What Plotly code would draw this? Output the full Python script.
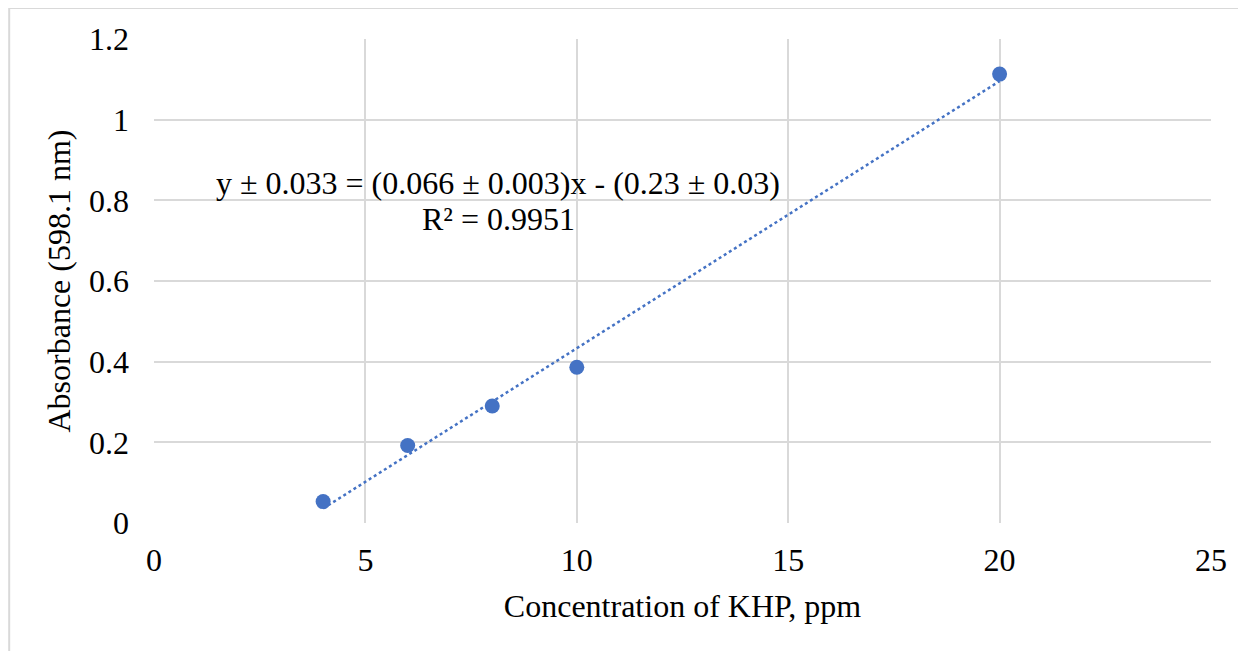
import numpy as np
import plotly.graph_objects as go

# KHP calibration data
concentration = [4, 6, 8, 10, 20]
absorbance = [0.053, 0.192, 0.290, 0.386, 1.113]

x_ticks = [0, 5, 10, 15, 20, 25]
y_ticks = [0, 0.2, 0.4, 0.6, 0.8, 1, 1.2]
y_tick_text = ["0", "0.2", "0.4", "0.6", "0.8", "1", "1.2"]

eq_text = "y ± 0.033 = (0.066 ± 0.003)x - (0.23 ± 0.03)"
r2_text = "R² = 0.9951"

blue = "#4472C4"
font_name = "Liberation Serif, Times New Roman, serif"

# linear trendline fitted to the points
slope, intercept = np.polyfit(concentration, absorbance, 1)
fit_x = [min(concentration), max(concentration)]
fit_y = [slope * v + intercept for v in fit_x]

fig = go.Figure()
fig.add_trace(go.Scatter(x=fit_x, y=fit_y, mode="lines",
                         line=dict(color=blue, width=2.5, dash="dot"),
                         hoverinfo="skip"))
fig.add_trace(go.Scatter(x=concentration, y=absorbance, mode="markers",
                         marker=dict(color=blue, size=15)))

fig.add_annotation(x=8.14, y=0.843, text=eq_text, showarrow=False,
                   xanchor="center", yanchor="middle",
                   font=dict(family=font_name, size=32, color="black"))
fig.add_annotation(x=8.14, y=0.754, text=r2_text, showarrow=False,
                   xanchor="center", yanchor="middle",
                   font=dict(family=font_name, size=32, color="black"))

# outer chart border (top and left visible)
fig.add_shape(type="line", xref="paper", yref="paper",
              x0=-0.137, x1=1.1, y0=1.064, y1=1.064,
              line=dict(color="#d9d9d9", width=2))
fig.add_shape(type="line", xref="paper", yref="paper",
              x0=-0.137, x1=-0.137, y0=1.064, y1=-0.3,
              line=dict(color="#d9d9d9", width=2))

fig.update_layout(
    width=1238, height=643,
    margin=dict(l=146, r=35, t=31, b=128),
    paper_bgcolor="white", plot_bgcolor="white",
    showlegend=False,
    font=dict(family=font_name, size=32, color="black"),
    xaxis=dict(range=[0, 25], tickvals=x_ticks, showgrid=True,
               gridcolor="#d9d9d9", gridwidth=1.5, zeroline=False,
               showline=False, ticks="", ticklabelstandoff=15,
               title=dict(text="Concentration of KHP, ppm", standoff=17,
                          font=dict(size=32))),
    yaxis=dict(range=[0, 1.2], tickvals=y_ticks, ticktext=y_tick_text,
               showgrid=True, gridcolor="#d9d9d9", gridwidth=1.5,
               zeroline=False, showline=False, ticks="",
               ticklabelstandoff=24,
               title=dict(text="Absorbance (598.1 nm)", standoff=8,
                          font=dict(size=32))),
)

fig.write_html("out.html")
